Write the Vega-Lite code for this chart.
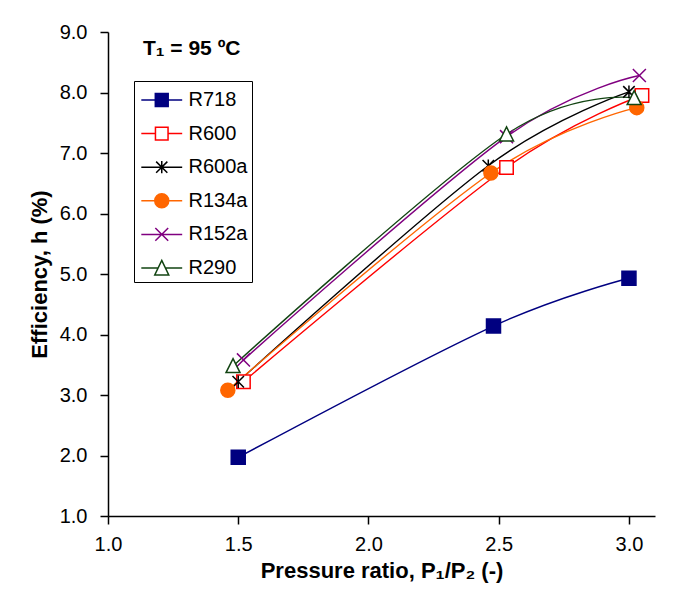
{
  "$schema": "https://vega.github.io/schema/vega-lite/v6.json",
  "width": 547,
  "height": 484,
  "autosize": {"type": "none"},
  "padding": {"left": 108, "top": 32, "right": 39, "bottom": 81},
  "background": "white",
  "config": {
    "view": {"stroke": null},
    "font": "Liberation Sans",
    "legend": {"orient": "none", "legendX": 26, "legendY": 49, "padding": 4, "strokeColor": "black", "fillColor": "white",
      "symbolSize": 784, "symbolOffset": 8.75, "labelOffset": 11.75, "rowPadding": 8.6, "symbolStrokeWidth": 1.5,
      "labelFont": "Liberation Sans", "labelFontSize": 20, "labelColor": "black"}
  },
  "title": {"text": "T₁ = 95 ºC", "anchor": "start", "frame": "group", "dx": 35, "dy": 54, "offset": 0, "baseline": "alphabetic", "font": "Liberation Sans", "fontSize": 21, "fontWeight": "bold", "color": "black"},
  "data": {"values": [
    {"series": "R718", "ratio": 1.50, "eff": 1.97},
    {"series": "R718", "ratio": 2.48, "eff": 4.14},
    {"series": "R718", "ratio": 3.00, "eff": 4.93},
    {"series": "R600", "ratio": 1.52, "eff": 3.22},
    {"series": "R600", "ratio": 2.53, "eff": 6.76},
    {"series": "R600", "ratio": 3.05, "eff": 7.95},
    {"series": "R600a", "ratio": 1.50, "eff": 3.22},
    {"series": "R600a", "ratio": 2.46, "eff": 6.79},
    {"series": "R600a", "ratio": 3.00, "eff": 8.01},
    {"series": "R134a", "ratio": 1.46, "eff": 3.08},
    {"series": "R134a", "ratio": 2.47, "eff": 6.67},
    {"series": "R134a", "ratio": 3.03, "eff": 7.75},
    {"series": "R152a", "ratio": 1.52, "eff": 3.58},
    {"series": "R152a", "ratio": 2.53, "eff": 7.27},
    {"series": "R152a", "ratio": 3.04, "eff": 8.28},
    {"series": "R290", "ratio": 1.48, "eff": 3.48},
    {"series": "R290", "ratio": 2.53, "eff": 7.31},
    {"series": "R290", "ratio": 3.02, "eff": 7.91}
  ]},
  "encoding": {
    "x": {"field": "ratio", "type": "quantitative",
      "scale": {"domain": [1, 3.1], "nice": false, "zero": false},
      "axis": {"values": [1, 1.5, 2, 2.5, 3], "format": ".1f", "title": "Pressure ratio, P₁/P₂ (-)", "grid": false,
        "domainColor": "black", "domainWidth": 1.5, "tickColor": "black", "tickWidth": 1.5, "tickSize": 8,
        "labelFont": "Liberation Sans", "labelFontSize": 20, "labelColor": "black", "labelPadding": 10, "labelFlush": false,
        "titleFont": "Liberation Sans", "titleFontSize": 22, "titleFontWeight": "bold", "titleColor": "black", "titlePadding": 6}},
    "y": {"field": "eff", "type": "quantitative",
      "scale": {"domain": [1, 9], "nice": false, "zero": false},
      "axis": {"values": [1, 2, 3, 4, 5, 6, 7, 8, 9], "format": ".1f", "title": "Efficiency, h (%)", "grid": false,
        "domainColor": "black", "domainWidth": 1.5, "tickColor": "black", "tickWidth": 1.5, "tickSize": 8,
        "labelFont": "Liberation Sans", "labelFontSize": 20, "labelColor": "black", "labelPadding": 13, "labelFlush": false,
        "titleFont": "Liberation Sans", "titleFontSize": 22, "titleFontWeight": "bold", "titleColor": "black", "titlePadding": 8}}
  },
  "resolve": {
    "scale": {"shape": "independent", "stroke": "independent", "fill": "independent"},
    "legend": {"shape": "independent", "stroke": "independent", "fill": "independent"}
  },
  "layer": [
    {
      "mark": {"type": "line", "interpolate": "cardinal", "tension": 0, "strokeWidth": 1.4},
      "encoding": {
        "color": {"field": "series", "type": "nominal",
          "scale": {"domain": ["R718", "R600", "R600a", "R134a", "R152a", "R290"], "range": ["#000080", "#FF0000", "#000000", "#FF6600", "#800080", "#124412"]},
          "legend": null}
      }
    },
    {
      "mark": {"type": "point", "size": 196, "strokeWidth": 1.5, "opacity": 1},
      "encoding": {
        "shape": {"field": "series", "type": "nominal",
          "scale": {"domain": ["R718", "R600", "R600a", "R134a", "R152a", "R290"],
            "range": ["M-1,-1H1V1H-1Z", "M-0.96,-0.96H0.96V0.96H-0.96Z", "M0,-0.9V0.9M-0.82,-0.82L0.82,0.82M-0.82,0.82L0.82,-0.82", "M-1,0A1,1,0,1,1,1,0A1,1,0,1,1,-1,0Z", "M-0.93,-0.93L0.93,0.93M-0.93,0.93L0.93,-0.93", "M0,-1.05L1,0.95L-1,0.95Z"]},
          "legend": null},
        "stroke": {"field": "series", "type": "nominal",
          "scale": {"domain": ["R718", "R600", "R600a", "R134a", "R152a", "R290"], "range": ["#000080", "#FF0000", "#000000", "#FF6600", "#800080", "#124412"]},
          "legend": null},
        "fill": {"field": "series", "type": "nominal",
          "scale": {"domain": ["R718", "R600", "R600a", "R134a", "R152a", "R290"], "range": ["#000080", "#FFFFFF", "transparent", "#FF6600", "transparent", "#FFFFFF"]},
          "legend": null}
      }
    },
    {
      "transform": [{"filter": "false"}],
      "mark": {"type": "point", "size": 784, "strokeWidth": 1.5, "opacity": 1},
      "encoding": {
        "shape": {"field": "series", "type": "nominal",
          "scale": {"domain": ["R718", "R600", "R600a", "R134a", "R152a", "R290"],
            "range": ["M-1.46,0H1.46M-0.46,-0.46H0.46V0.46H-0.46Z", "M-1.46,0H-0.45M0.45,0H1.46M-0.45,-0.45H0.45V0.45H-0.45Z", "M-1.46,0H1.46M0,-0.44V0.44M-0.4,-0.4L0.4,0.4M-0.4,0.4L0.4,-0.4", "M-1.46,0H1.46M-0.5,0A0.5,0.5,0,1,1,0.5,0A0.5,0.5,0,1,1,-0.5,0Z", "M-1.46,0H1.46M-0.46,-0.46L0.46,0.46M-0.46,0.46L0.46,-0.46", "M-1.46,0H-0.26M0.26,0H1.46M0,-0.54L0.5,0.5L-0.5,0.5Z"]},
          "legend": {"title": null}},
        "stroke": {"field": "series", "type": "nominal",
          "scale": {"domain": ["R718", "R600", "R600a", "R134a", "R152a", "R290"], "range": ["#000080", "#FF0000", "#000000", "#FF6600", "#800080", "#124412"]},
          "legend": {"title": null}},
        "fill": {"field": "series", "type": "nominal",
          "scale": {"domain": ["R718", "R600", "R600a", "R134a", "R152a", "R290"], "range": ["#000080", "#FFFFFF", "transparent", "#FF6600", "transparent", "#FFFFFF"]},
          "legend": {"title": null}}
      }
    }
  ]
}
